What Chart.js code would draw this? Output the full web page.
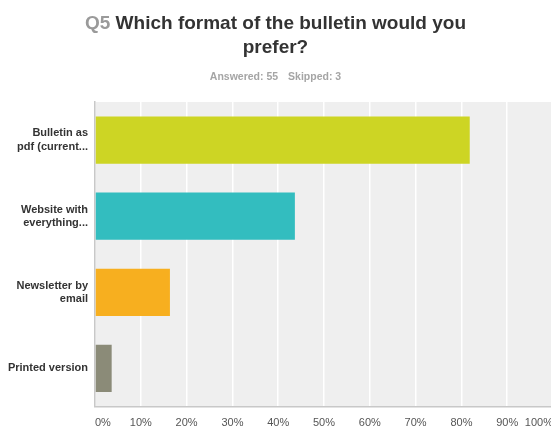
<!DOCTYPE html>
<html>
<head>
<meta charset="utf-8">
<script src="https://cdn.jsdelivr.net/npm/chart.js@4/dist/chart.umd.min.js"></script>
<style>
  html, body { margin: 0; padding: 0; width: 551px; height: 430px; overflow: hidden; background: #fff; }
  #wrap { position: relative; width: 553px; height: 430px; }
  #chart { position: absolute; left: 0; top: 0; }
  .title {
    position: absolute; left: 0; width: 551px; top: 11px; text-align: center;
    font-family: 'Liberation Sans', Arial, sans-serif; font-weight: bold;
    font-size: 19px; line-height: 24px; color: #333;
  }
  .title .q { color: #9a9a9a; }
  .stats {
    position: absolute; left: 0; width: 551px; top: 70px; text-align: center;
    font-family: 'Liberation Sans', Arial, sans-serif; font-weight: bold;
    font-size: 10.5px; color: #a5a5a5;
  }
  .stats span { margin: 0 5px; }
</style>
</head>
<body>
<div id="wrap">
  <canvas id="chart" width="553" height="430"></canvas>
  <div class="title"><span class="q">Q5</span> Which format of the bulletin would you<br>prefer?</div>
  <div class="stats"><span>Answered: 55</span><span>Skipped: 3</span></div>
</div>
<script>
// answer options (labels are cut like on the survey page)
const categories = [
  ['Bulletin as', 'pdf (current...'],
  ['Website with', 'everything...'],
  ['Newsletter by', 'email'],
  'Printed version'
];
const percents = [81.82, 43.64, 16.36, 3.64];
const barColors = ['#cdd524', '#33bdbf', '#f7af1f', '#8b8b78'];
const xTicks = [0, 10, 20, 30, 40, 50, 60, 70, 80, 90, 100];

const FONT = "'Liberation Sans', Arial, sans-serif";

// light grey plot background behind the bars
const plotBg = {
  id: 'plotBg',
  beforeDraw(chart) {
    const a = chart.chartArea, c = chart.ctx;
    c.save();
    c.fillStyle = '#efefef';
    c.fillRect(a.left, a.top, a.right - a.left, a.bottom - a.top);
    c.restore();
  }
};

new Chart(document.getElementById('chart').getContext('2d'), {
  type: 'bar',
  data: {
    labels: categories,
    datasets: [{
      data: percents,
      backgroundColor: barColors,
      borderWidth: 0,
      barPercentage: 0.62,
      categoryPercentage: 1
    }]
  },
  plugins: [plotBg],
  options: {
    indexAxis: 'y',
    responsive: false,
    animation: false,
    events: [],
    layout: { padding: { top: 102, right: 0, bottom: 0, left: 0 } },
    plugins: { legend: { display: false }, tooltip: { enabled: false } },
    scales: {
      x: {
        min: 0, max: 100,
        afterBuildTicks: s => { s.ticks = xTicks.map(v => ({ value: v })); },
        afterFit: s => { s.height = 23.5; s.paddingLeft = 0; s.paddingRight = 0; },
        ticks: {
          callback: v => v + '%',
          align: 'inner',
          padding: 10,
          color: '#555',
          font: { family: FONT, size: 11 }
        },
        grid: { color: '#ffffff', lineWidth: 1.5, drawTicks: false },
        border: { display: true, color: '#c8c8c8', width: 1.5 }
      },
      y: {
        afterFit: s => { s.width = 95; },
        ticks: {
          padding: 7,
          color: '#333',
          font: { family: FONT, size: 11, weight: 'bold', lineHeight: 1.2 }
        },
        grid: { display: false, drawTicks: false },
        border: { display: true, color: '#c8c8c8', width: 1.5 }
      }
    }
  }
});
</script>
</body>
</html>
